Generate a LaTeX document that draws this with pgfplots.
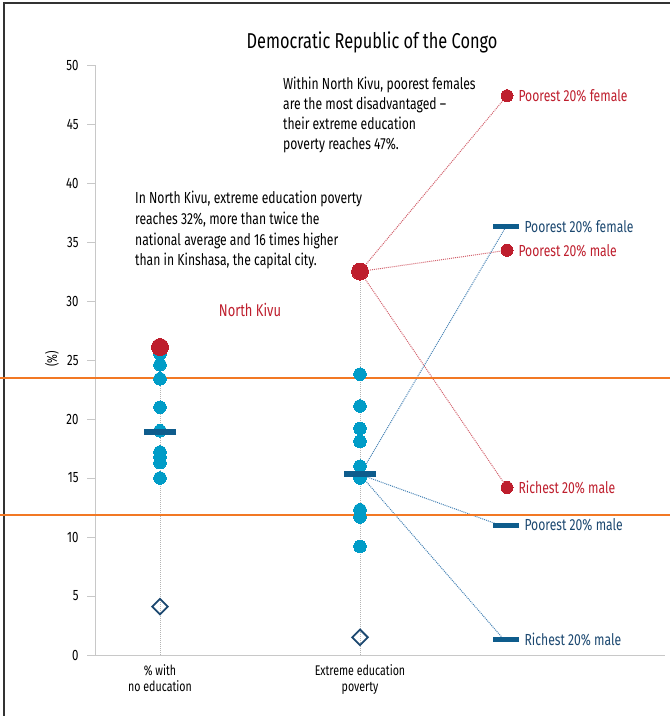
\documentclass[border=0pt]{standalone}
\usepackage{pgfplots}
\pgfplotsset{compat=1.18}
\usepackage{fontspec}
\setmainfont{Fira Sans}[FakeStretch=0.76]
\definecolor{cred}{RGB}{190,30,45}
\definecolor{cteal}{RGB}{0,156,199}
\definecolor{cdash}{RGB}{14,92,140}
\definecolor{cnavy}{RGB}{28,72,112}
\definecolor{corange}{RGB}{242,120,36}
\definecolor{caxis}{RGB}{200,200,200}
\definecolor{cblueline}{RGB}{70,130,180}
\begin{document}
\begin{tikzpicture}[x=1pt,y=1pt]
\useasboundingbox (0,0) rectangle (670,716);
\draw[line width=1.3pt, black!80] (4,0) -- (4,713) -- (670,713);
\node[font=\fontsize{21.5}{24}\selectfont] at (372,674) {Democratic Republic of the Congo};
\begin{axis}[
 at={(95pt,61pt)}, anchor=south west, scale only axis,
 width=570pt, height=590pt,
 xmin=0.675, xmax=3.525, ymin=0, ymax=50,
 axis lines*=left,
 axis line style={draw=caxis, line width=1pt},
 ytick={0,5,...,50},
 xtick={1,2},
 xticklabels={{\% with\\no education},{Extreme education\\poverty}},
 xticklabel style={align=center, font=\fontsize{14}{16}\selectfont, yshift=2pt},
 x tick style={draw=none},
 y tick style={draw=caxis, line width=1pt},
 tick align=outside, major tick length=8pt,
 yticklabel style={font=\fontsize{15}{17}\selectfont, xshift=-5pt},
 /pgf/number format/assume math mode=true,
 clip=false,
]
% gray guides
\addplot[caxis!90!black, densely dotted, line width=1pt] coordinates {(1,0) (1,26.1)};
\addplot[caxis!90!black, densely dotted, line width=1pt] coordinates {(2,0) (2,32.5)};
% red connectors
\addplot[cred!70, densely dotted, line width=1pt] coordinates {(2,32.5) (2.735,47.4)};
\addplot[cred!70, densely dotted, line width=1pt] coordinates {(2,32.5) (2.735,34.3)};
\addplot[cred!70, densely dotted, line width=1pt] coordinates {(2,32.5) (2.735,14.2)};
% blue connectors
\addplot[cblueline, densely dotted, line width=1pt] coordinates {(2,15.3) (2.73,36.3)};
\addplot[cblueline, densely dotted, line width=1pt] coordinates {(2,15.3) (2.70,11.0)};
\addplot[cblueline, densely dotted, line width=1pt] coordinates {(2,15.3) (2.72,1.3)};
% blue dots
\addplot[only marks, color=cteal, mark=*, mark size=6.3pt, mark options={draw=cteal, fill=cteal, line width=0pt}] coordinates {
(1,25.5) (1,24.6) (1,23.4) (1,21.0) (1,19.0) (1,17.2) (1,16.8) (1,16.3) (1,15.0)
(2,23.8) (2,21.1) (2,19.2) (2,18.1) (2,16.0) (2,15.0) (2,12.3) (2,11.7) (2,9.2)};
% averages
\addplot[only marks, color=cdash, mark=-, mark size=16pt, mark options={line width=6pt, draw=cdash}] coordinates {(1,18.9) (2,15.3)};
% right dashes
\addplot[only marks, color=cdash, mark=-, mark size=13pt, mark options={line width=5pt, draw=cdash}] coordinates {(2.73,36.3) (2.73,11.0) (2.73,1.3)};
% diamonds
\addplot[only marks, color=cnavy, mark=square, mark size=5.5pt, mark options={rotate=45, draw=cnavy, fill=white, line width=1.8pt}] coordinates {(1,4.1) (2,1.5)};
% red dots
\addplot[only marks, color=cred, mark=*, mark size=8.5pt, mark options={draw=cred, fill=cred, line width=0pt}] coordinates {(1,26.1) (2,32.5)};
\addplot[only marks, color=cred, mark=*, mark size=6pt, mark options={draw=cred, fill=cred, line width=0pt}] coordinates {(2.735,47.4) (2.735,34.3) (2.735,14.2)};
% orange lines
\addplot[corange, line width=1.5pt] coordinates {(0.2,23.47) (3.55,23.47)};
\addplot[corange, line width=1.5pt] coordinates {(0.2,11.86) (3.55,11.86)};
% labels
\node[anchor=west, text=cred, font=\fontsize{16}{18}\selectfont] at (axis cs:2.775,47.4) {Poorest 20\% female};
\node[anchor=west, text=cred, font=\fontsize{16}{18}\selectfont] at (axis cs:2.775,34.3) {Poorest 20\% male};
\node[anchor=west, text=cred, font=\fontsize{16}{18}\selectfont] at (axis cs:2.775,14.2) {Richest 20\% male};
\node[anchor=west, text=cnavy, font=\fontsize{16}{18}\selectfont] at (axis cs:2.805,36.3) {Poorest 20\% female};
\node[anchor=west, text=cnavy, font=\fontsize{16}{18}\selectfont] at (axis cs:2.805,11.0) {Poorest 20\% male};
\node[anchor=west, text=cnavy, font=\fontsize{16}{18}\selectfont] at (axis cs:2.805,1.3) {Richest 20\% male};
\node[anchor=base west, align=left, font=\fontsize{16}{20}\selectfont, inner sep=0pt] at (axis cs:1.615,42.80) {Within North Kivu, poorest females\\are the most disadvantaged --\\their extreme education\\poverty reaches 47\%.};
\node[anchor=base west, align=left, font=\fontsize{16}{20.7}\selectfont, inner sep=0pt] at (axis cs:0.875,32.97) {In North Kivu, extreme education poverty\\reaches 32\%, more than twice the\\national average and 16 times higher\\than in Kinshasa, the capital city.};
\node[text=cred, font=\fontsize{17}{19}\selectfont] at (axis cs:1.45,29.2) {North Kivu};
\node[rotate=90, font=\fontsize{14}{16}\selectfont] at (axis cs:0.46,25.1) {(\%)};
\end{axis}
\end{tikzpicture}
\end{document}
